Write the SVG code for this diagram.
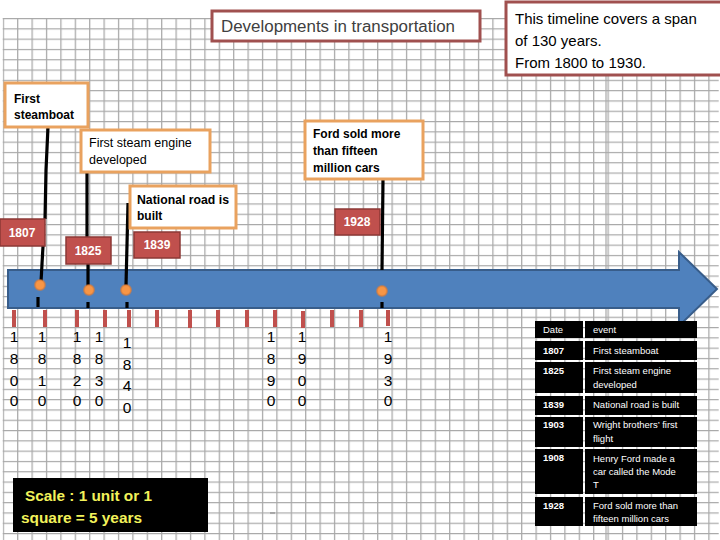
<svg xmlns="http://www.w3.org/2000/svg" width="720" height="540" viewBox="0 0 720 540">
  <defs>
    <pattern id="grid" patternUnits="userSpaceOnUse" x="2.7" y="18" width="14.4" height="10.3">
      <path d="M0.6 0 V10.3 M0 0.6 H14.4" fill="none" stroke="#a8a8a8" stroke-width="1.3"/>
    </pattern>
    <style>
      text { font-family: "Liberation Sans", Arial, sans-serif; }
      .obox { fill: #ffffff; stroke: #e9a25f; stroke-width: 3; }
      .rbox { fill: #ffffff; stroke: #a0504f; stroke-width: 3; }
      .ylab rect { fill: #c0504d; stroke: #8c3836; stroke-width: 1.5; }
      .ylab text { fill: #ffffff; font-weight: bold; font-size: 12px; text-anchor: middle; }
      .otxt { font-size: 12px; font-weight: bold; fill: #000; }
      .conn line, .conn polyline { stroke: #000; stroke-width: 3.2; fill: none; }
      .dash { stroke: #000; stroke-width: 3; }
      .dot { fill: #f79646; stroke: #e07b34; stroke-width: 2; stroke-opacity: 0.6; }
      .tick { stroke: #c0504d; stroke-width: 4; }
      .dig { font-size: 15.5px; fill: #000; text-anchor: middle; }
      .cell { fill: #000; }
      .tt { fill: #ffffff; font-size: 9.5px; }
      .td { fill: #ffffff; font-size: 9.5px; font-weight: bold; }
    </style>
  </defs>

  <rect x="0" y="0" width="720" height="540" fill="#ffffff"/>
  <rect x="2.7" y="18" width="716" height="522" fill="url(#grid)"/>
  <line x1="606" y1="75" x2="606" y2="540" stroke="#a8a8a8" stroke-width="1.2"/>

  <g id="title">
    <rect class="rbox" x="212" y="11" width="268" height="30" stroke-width="2.5"/>
    <text x="221" y="32" font-size="16" fill="#404040" textLength="234" lengthAdjust="spacingAndGlyphs">Developments in transportation</text>
  </g>

  <g id="span-note">
    <rect class="rbox" x="506" y="2" width="216" height="73"/>
    <text x="515" y="24" font-size="15" fill="#000">This timeline covers a span</text>
    <text x="515" y="46" font-size="15" fill="#000">of 130 years.</text>
    <text x="515" y="68" font-size="15" fill="#000">From 1800 to 1930.</text>
  </g>

  <g id="arrow">
    <path d="M8 270 H679 V252 L717 289 L679 326 V308 H8 Z" fill="#4f81bd" stroke="#385d8a" stroke-width="2"/>
  </g>

  <g id="ticks">
    <line class="tick" x1="14" y1="310" x2="14" y2="327"/>
    <line class="tick" x1="45" y1="310" x2="45" y2="327"/>
    <line class="tick" x1="77" y1="310" x2="77" y2="327"/>
    <line class="tick" x1="105" y1="310" x2="105" y2="327"/>
    <line class="tick" x1="129" y1="310" x2="129" y2="327"/>
    <line class="tick" x1="157" y1="310" x2="157" y2="327"/>
    <line class="tick" x1="190" y1="310" x2="190" y2="328"/>
    <line class="tick" x1="218" y1="310" x2="218" y2="327"/>
    <line class="tick" x1="247" y1="310" x2="247" y2="327"/>
    <line class="tick" x1="275" y1="310" x2="275" y2="327"/>
    <line class="tick" x1="303" y1="311" x2="303" y2="328"/>
    <line class="tick" x1="332" y1="310" x2="332" y2="327"/>
    <line class="tick" x1="361" y1="310" x2="361" y2="327"/>
    <line class="tick" x1="388" y1="310" x2="388" y2="326"/>
  </g>

  <g id="connectors" class="conn">
    <polyline points="48,127 46,170 45,219"/>
    <line x1="43" y1="246" x2="41" y2="282"/>
    <line class="dash" x1="38" y1="297" x2="38" y2="307"/>
    <line x1="87" y1="172" x2="87" y2="237"/>
    <line x1="88" y1="264" x2="88" y2="286"/>
    <line class="dash" x1="88" y1="302" x2="88" y2="308"/>
    <line x1="128" y1="203" x2="126" y2="286"/>
    <line class="dash" x1="127" y1="302" x2="127" y2="308"/>
    <line x1="383" y1="180" x2="382" y2="270"/>
    <line class="dash" x1="382" y1="302" x2="382" y2="308"/>
  </g>

  <g id="dots">
    <circle class="dot" cx="40" cy="285" r="5"/>
    <circle class="dot" cx="89" cy="290" r="5"/>
    <circle class="dot" cx="126" cy="290" r="5"/>
    <circle class="dot" cx="382" cy="291" r="5"/>
  </g>

  <g id="ev-steamboat">
    <rect class="obox" x="5" y="83" width="83" height="44"/>
    <text class="otxt" x="14" y="103">First</text>
    <text class="otxt" x="14" y="119">steamboat</text>
  </g>

  <g id="ev-steam-engine">
    <rect class="obox" x="81" y="130" width="129" height="42"/>
    <text x="89" y="147" font-size="12.5" fill="#000">First steam engine</text>
    <text x="89" y="164" font-size="12.5" fill="#000">developed</text>
  </g>

  <g id="ev-ford">
    <rect class="obox" x="305" y="121" width="118" height="58"/>
    <text class="otxt" x="313" y="138">Ford sold more</text>
    <text class="otxt" x="313" y="155">than fifteen</text>
    <text class="otxt" x="313" y="172">million cars</text>
  </g>

  <g id="ev-road">
    <rect class="obox" x="130" y="186" width="106" height="42"/>
    <text class="otxt" x="137" y="204" textLength="92" lengthAdjust="spacingAndGlyphs">National road is</text>
    <text class="otxt" x="137" y="220">built</text>
  </g>

  <g id="y1807" class="ylab">
    <rect x="0" y="219" width="45" height="27"/>
    <text x="22" y="237">1807</text>
  </g>
  <g id="y1825" class="ylab">
    <rect x="66" y="237" width="45" height="27"/>
    <text x="88" y="255">1825</text>
  </g>
  <g id="y1839" class="ylab">
    <rect x="134" y="232" width="46" height="26"/>
    <text x="157" y="249">1839</text>
  </g>
  <g id="y1928" class="ylab">
    <rect x="335" y="209" width="45" height="26"/>
    <text x="357" y="226">1928</text>
  </g>

  <g id="axis-years">
    <text class="dig" x="14" y="342">1</text><text class="dig" x="14" y="364">8</text><text class="dig" x="14" y="386">0</text><text class="dig" x="14" y="406">0</text>
    <text class="dig" x="42" y="342">1</text><text class="dig" x="42" y="364">8</text><text class="dig" x="42" y="386">1</text><text class="dig" x="42" y="406">0</text>
    <text class="dig" x="77" y="342">1</text><text class="dig" x="77" y="364">8</text><text class="dig" x="77" y="386">2</text><text class="dig" x="77" y="406">0</text>
    <text class="dig" x="99" y="342">1</text><text class="dig" x="99" y="364">8</text><text class="dig" x="99" y="386">3</text><text class="dig" x="99" y="406">0</text>
    <text class="dig" x="127" y="348">1</text><text class="dig" x="127" y="370">8</text><text class="dig" x="127" y="391">4</text><text class="dig" x="127" y="413">0</text>
    <text class="dig" x="271" y="342">1</text><text class="dig" x="271" y="364">8</text><text class="dig" x="271" y="386">9</text><text class="dig" x="271" y="406">0</text>
    <text class="dig" x="302" y="342">1</text><text class="dig" x="302" y="364">9</text><text class="dig" x="302" y="386">0</text><text class="dig" x="302" y="406">0</text>
    <text class="dig" x="388" y="342">1</text><text class="dig" x="388" y="364">9</text><text class="dig" x="388" y="386">3</text><text class="dig" x="388" y="406">0</text>
  </g>

  <g id="table">
    <rect class="cell" x="535" y="321" width="48" height="17"/>
    <rect class="cell" x="585" y="321" width="112" height="17"/>
    <text class="tt" x="543" y="333">Date</text>
    <text class="tt" x="593" y="333">event</text>

    <rect class="cell" x="535" y="341" width="48" height="19"/>
    <rect class="cell" x="585" y="341" width="112" height="19"/>
    <text class="td" x="543" y="354">1807</text>
    <text class="tt" x="593" y="354">First steamboat</text>

    <rect class="cell" x="535" y="362" width="48" height="31"/>
    <rect class="cell" x="585" y="362" width="112" height="31"/>
    <text class="td" x="543" y="374">1825</text>
    <text class="tt" x="593" y="374">First steam engine</text>
    <text class="tt" x="593" y="388">developed</text>

    <rect class="cell" x="535" y="396" width="48" height="19"/>
    <rect class="cell" x="585" y="396" width="112" height="19"/>
    <text class="td" x="543" y="408">1839</text>
    <text class="tt" x="593" y="408">National road is built</text>

    <rect class="cell" x="535" y="417" width="48" height="30"/>
    <rect class="cell" x="585" y="417" width="112" height="30"/>
    <text class="td" x="543" y="428">1903</text>
    <text class="tt" x="593" y="428">Wright brothers’ first</text>
    <text class="tt" x="593" y="442">flight</text>

    <rect class="cell" x="535" y="449" width="48" height="45"/>
    <rect class="cell" x="585" y="449" width="112" height="45"/>
    <text class="td" x="543" y="461">1908</text>
    <text class="tt" x="593" y="462">Henry Ford made a</text>
    <text class="tt" x="593" y="475">car called the Mode</text>
    <text class="tt" x="593" y="488">T</text>

    <rect class="cell" x="535" y="497" width="48" height="29"/>
    <rect class="cell" x="585" y="497" width="112" height="29"/>
    <text class="td" x="543" y="509">1928</text>
    <text class="tt" x="593" y="509">Ford sold more than</text>
    <text class="tt" x="593" y="522">fifteen million cars</text>
  </g>

  <g id="scale">
    <rect x="13" y="478" width="195" height="54" fill="#000"/>
    <text x="25" y="501" font-size="14" font-weight="bold" fill="#f2f25a" textLength="127" lengthAdjust="spacingAndGlyphs">Scale : 1 unit or 1</text>
    <text x="21" y="523" font-size="14" font-weight="bold" fill="#f2f25a" textLength="121" lengthAdjust="spacingAndGlyphs">square = 5 years</text>
  </g>

  <line x1="270" y1="513" x2="275" y2="513" stroke="#808080" stroke-width="1"/>
</svg>
